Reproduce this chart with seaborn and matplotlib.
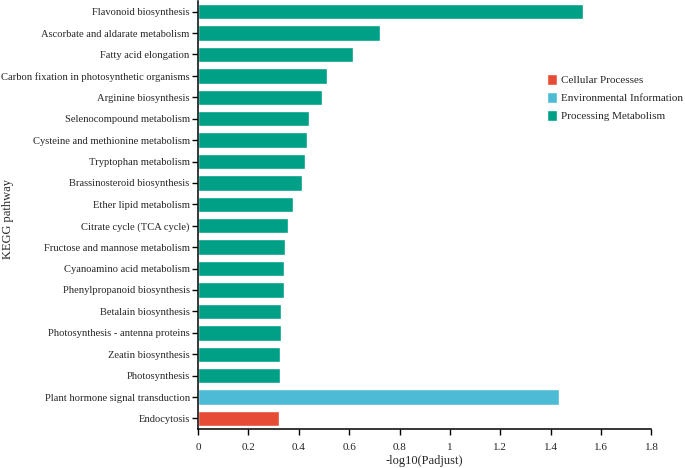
import numpy as np
import pandas as pd
import matplotlib
matplotlib.use("Agg")
import matplotlib.pyplot as plt
import seaborn as sns

pathways = [
    "Flavonoid biosynthesis",
    "Ascorbate and aldarate metabolism",
    "Fatty acid elongation",
    "Carbon fixation in photosynthetic organisms",
    "Arginine biosynthesis",
    "Selenocompound metabolism",
    "Cysteine and methionine metabolism",
    "Tryptophan metabolism",
    "Brassinosteroid biosynthesis",
    "Ether lipid metabolism",
    "Citrate cycle (TCA cycle)",
    "Fructose and mannose metabolism",
    "Cyanoamino acid metabolism",
    "Phenylpropanoid biosynthesis",
    "Betalain biosynthesis",
    "Photosynthesis - antenna proteins",
    "Zeatin biosynthesis",
    "Photosynthesis",
    "Plant hormone signal transduction",
    "Endocytosis",
]
padj = [1.528, 0.721, 0.614, 0.511, 0.492, 0.441, 0.432, 0.425, 0.414, 0.377,
        0.357, 0.345, 0.343, 0.340, 0.331, 0.330, 0.327, 0.327, 1.432, 0.320]
classes = ["Processing Metabolism"] * 18 + ["Environmental Information", "Cellular Processes"]

class_order = ["Cellular Processes", "Environmental Information", "Processing Metabolism"]
class_colors = ["#E64B35", "#4DBBD5", "#00A087"]

df = pd.DataFrame({"pathway": pathways, "padj": padj, "cls": classes})

sns.set_style("ticks")
plt.rcParams["font.family"] = ["Liberation Serif", "DejaVu Serif"]

fig, ax = plt.subplots(figsize=(6.85, 4.68), dpi=100)
fig.subplots_adjust(left=0.289, right=0.951, top=0.998, bottom=0.083)

sns.barplot(data=df, x="padj", y="pathway", hue="cls", hue_order=class_order,
            palette=class_colors, dodge=False, width=0.72, order=pathways,
            saturation=1, ax=ax)

ax.set_xlim(0, 1.8)
ax.set_ylim(len(pathways) - 0.5, -0.5)
ticks = np.arange(0, 1.81, 0.2)
ax.set_xticks(ticks)
ax.set_xticklabels([f"{t:g}" for t in np.round(ticks, 1)])
ax.tick_params(axis="y", labelsize=7.6, length=4, width=1, color="black", pad=2)
ax.tick_params(axis="x", labelsize=8, length=4, width=1, color="black", pad=6)
for s in ["top", "right"]:
    ax.spines[s].set_visible(False)
for s in ["left", "bottom"]:
    ax.spines[s].set_linewidth(1.1)
    ax.spines[s].set_color("black")

ax.set_xlabel("-log10(Padjust)", fontsize=9, labelpad=2)
ax.set_ylabel("KEGG pathway", fontsize=9)
ax.yaxis.set_label_coords(-0.405, 0.49)

leg = ax.legend(title=None, frameon=False, fontsize=8, loc="upper left",
                bbox_to_anchor=(0.752, 0.848), handlelength=0.9, handleheight=1.15,
                handletextpad=0.35, labelspacing=0.6, borderpad=0.2)

fig.savefig("out.png", dpi=100)
